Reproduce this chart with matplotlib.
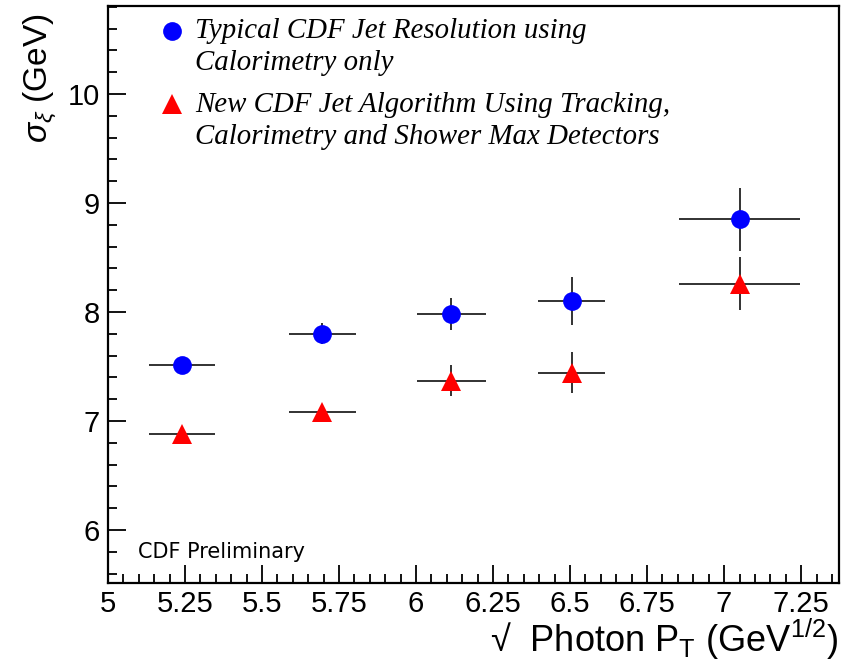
import matplotlib
matplotlib.use("Agg")
import matplotlib.pyplot as plt
from matplotlib.ticker import MultipleLocator, FixedLocator, FixedFormatter

plt.rcParams['mathtext.fontset'] = 'custom'
plt.rcParams['mathtext.rm'] = 'Liberation Sans'
plt.rcParams['mathtext.it'] = 'Liberation Sans:italic'
plt.rcParams['font.family'] = ['Liberation Sans', 'DejaVu Sans']

# Data
x_vals = [5.24, 5.696, 6.114, 6.506, 7.051]
x_err = [0.108, 0.108, 0.112, 0.109, 0.197]

calo_vals = [7.511, 7.801, 7.98, 8.101, 8.850]
calo_err = [0.03, 0.095, 0.15, 0.22, 0.29]

track_vals = [6.884, 7.083, 7.37, 7.443, 8.26]
track_err = [0.02, 0.05, 0.14, 0.19, 0.245]

x_ticks = [5, 5.25, 5.5, 5.75, 6, 6.25, 6.5, 6.75, 7, 7.25]
x_tick_labels = ["5", "5.25", "5.5", "5.75", "6", "6.25", "6.5", "6.75", "7", "7.25"]
y_ticks = [6, 7, 8, 9, 10]
y_tick_labels = ["6", "7", "8", "9", "10"]

legend_calo = "Typical CDF Jet Resolution using\nCalorimetry only"
legend_track = "New CDF Jet Algorithm Using Tracking,\nCalorimetry and Shower Max Detectors"

fig = plt.figure(figsize=(8.41, 6.66), dpi=100)
ax = fig.add_axes([108/841, 83/666, (839-108)/841, (660-83)/666])

ax.errorbar(x_vals, calo_vals, xerr=x_err, yerr=calo_err, fmt='none',
            ecolor='#222222', elinewidth=1.3, capsize=0, zorder=2)
ax.errorbar(x_vals, track_vals, xerr=x_err, yerr=track_err, fmt='none',
            ecolor='#222222', elinewidth=1.3, capsize=0, zorder=2)
ax.plot(x_vals, calo_vals, 'o', color='#0000ff', markersize=13.5,
        markeredgewidth=0, zorder=3)
ax.plot(x_vals, track_vals, '^', color='#ff0000', markersize=14.5,
        markeredgewidth=0, zorder=3)

ax.set_xlim(5.0, 7.373)
ax.set_ylim(5.513, 10.807)

ax.xaxis.set_major_locator(FixedLocator(x_ticks))
ax.xaxis.set_major_formatter(FixedFormatter(x_tick_labels))
ax.xaxis.set_minor_locator(MultipleLocator(0.05))
ax.yaxis.set_major_locator(FixedLocator(y_ticks))
ax.yaxis.set_major_formatter(FixedFormatter(y_tick_labels))
ax.yaxis.set_minor_locator(MultipleLocator(0.2))

ax.tick_params(which='both', direction='in', top=False, right=False,
               width=1.3, colors='black')
ax.tick_params(which='major', length=13, labelsize=21, pad=5)
ax.tick_params(which='minor', length=6.5)
ax.tick_params(axis='y', pad=6)
for s in ax.spines.values():
    s.set_linewidth(1.6)

# Legend (manual, as in the reference)
ax.plot([5.208], [10.578], 'o', color='#0000ff', markersize=13.5,
        markeredgewidth=0, clip_on=False)
ax.plot([5.208], [9.908], '^', color='#ff0000', markersize=14.5,
        markeredgewidth=0, clip_on=False)
fig.text(195/841, 1 - 47/666, legend_calo, family='Liberation Serif',
         style='italic', fontsize=20.8, ha='left', va='center',
         linespacing=1.32)
fig.text(195/841, 1 - 121/666, legend_track, family='Liberation Serif',
         style='italic', fontsize=20.8, ha='left', va='center',
         linespacing=1.32)

fig.text(138/841, 1 - 552/666, "CDF Preliminary", family='DejaVu Sans',
         fontsize=15, ha='left', va='center')

fig.text(838/841, 4/666, "\u221a  Photon P$_{\\mathrm{T}}$ (GeV$^{1/2}$)",
         fontsize=26, ha='right', va='bottom')
fig.text(40/841, 1 - 13/666, r"$\sigma_{\xi}$ (GeV)",
         fontsize=24, rotation=90, ha='center', va='top')

fig.savefig("out.png", dpi=100)
